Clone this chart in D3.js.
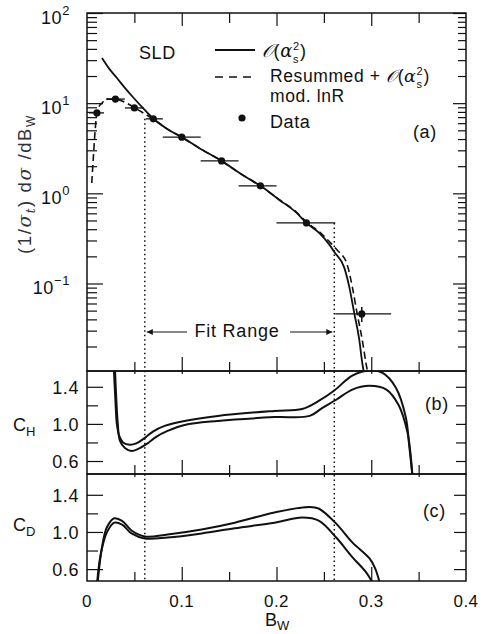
<!DOCTYPE html>
<html><head><meta charset="utf-8">
<script src="https://cdn.jsdelivr.net/npm/d3@7"></script>
<style>
body{margin:0;background:#fff}
svg{display:block;font-family:"Liberation Sans",Arial,Helvetica,sans-serif;color:#111}
</style></head><body>
<svg id="chart" width="487" height="634"></svg>
<script>
// ---------- axis ticks ----------
const xTickValues = [0, 0.1, 0.2, 0.3, 0.4];
const xTickLabels = ["0", "0.1", "0.2", "0.3", "0.4"];
const logTickExps = [2, 1, 0, -1];
const ratioTickValues = [1.4, 1.0, 0.6];
const ratioTickLabels = ["1.4", "1.0", "0.6"];

// ---------- SLD data: bin centre, bin edges, value, vertical error ----------
const dataX = [0.0105, 0.030, 0.050, 0.070, 0.100, 0.142, 0.183, 0.2316, 0.290];
const binLo = [0.002, 0.020, 0.040, 0.062, 0.080, 0.120, 0.160, 0.200, 0.262];
const binHi = [0.018, 0.040, 0.060, 0.080, 0.120, 0.160, 0.200, 0.262, 0.321];
const dataY = [7.8, 11.1, 8.85, 6.7, 4.2, 2.29, 1.21, 0.47, 0.046];
const errLo = [7.5, 10.8, 8.6, 6.5, 4.1, 2.23, 1.17, 0.45, 0.0375];
const errHi = [8.1, 11.4, 9.1, 6.9, 4.3, 2.35, 1.25, 0.49, 0.055];

// ---------- O(alpha_s^2) prediction ----------
const solidX = [0.0158, 0.0236, 0.0316, 0.040, 0.0484, 0.0589, 0.0716, 0.085, 0.100, 0.120, 0.142, 0.161, 0.172, 0.183,
                0.203, 0.221, 0.2316, 0.245, 0.256, 0.261, 0.2716, 0.2768, 0.282, 0.2874, 0.2905, 0.2925];
const solidY = [31.7, 24.0, 19.0, 14.8, 11.7, 8.85, 6.5, 5.15, 4.2, 3.1, 2.29, 1.68, 1.42, 1.21,
                0.845, 0.61, 0.47, 0.364, 0.268, 0.224, 0.149, 0.0917, 0.0472, 0.0237, 0.0132, 0.0100];

// ---------- resummed + O(alpha_s^2), modified lnR ----------
const dashX = [0.0050, 0.0068, 0.0084, 0.0105, 0.0130, 0.0158, 0.021, 0.0295, 0.042, 0.0505, 0.063, 0.0716, 0.085, 0.100,
               0.120, 0.142, 0.161, 0.183, 0.203, 0.221, 0.2316, 0.245, 0.256, 0.264, 0.274, 0.280, 0.285, 0.2905, 0.2947, 0.2965];
const dashY = [1.3, 2.6, 4.7, 7.8, 9.3, 10.0, 11.1, 11.1, 10.0, 8.85, 7.4, 6.5, 5.15, 4.2,
               3.1, 2.29, 1.68, 1.21, 0.85, 0.62, 0.48, 0.375, 0.29, 0.235, 0.169, 0.0917, 0.047, 0.0237, 0.0126, 0.0100];

// ---------- hadronisation correction C_H (band edges) ----------
const chUpX = [0.0283, 0.0300, 0.0315, 0.034, 0.038, 0.0453, 0.052, 0.061, 0.070, 0.082, 0.103, 0.138, 0.198, 0.227,
               0.245, 0.261, 0.280, 0.298, 0.312, 0.326, 0.3365, 0.340, 0.3435];
const chUpY = [1.60, 1.25, 1.00, 0.87, 0.80, 0.775, 0.79, 0.849, 0.92, 0.978, 1.032, 1.086, 1.14, 1.16,
               1.25, 1.36, 1.52, 1.575, 1.55, 1.39, 1.07, 0.77, 0.44];
const chLoX = [0.0295, 0.0310, 0.0325, 0.0347, 0.040, 0.047, 0.054, 0.063, 0.073, 0.085, 0.103, 0.138, 0.198, 0.235,
               0.248, 0.263, 0.280, 0.298, 0.316, 0.329, 0.338, 0.341, 0.3435];
const chLoY = [1.60, 1.25, 1.00, 0.82, 0.74, 0.708, 0.73, 0.784, 0.86, 0.924, 0.989, 1.032, 1.073, 1.086,
               1.17, 1.26, 1.37, 1.41, 1.37, 1.20, 0.92, 0.72, 0.44];

// ---------- detector correction C_D (band edges) ----------
const cdUpX = [0.0112, 0.0158, 0.021, 0.0288, 0.037, 0.047, 0.061, 0.085, 0.121, 0.156, 0.198, 0.235, 0.245, 0.263,
               0.280, 0.298, 0.304, 0.309];
const cdUpY = [0.45, 0.835, 1.05, 1.147, 1.12, 1.016, 0.952, 0.973, 1.027, 1.10, 1.21, 1.27, 1.25, 1.09,
               0.888, 0.717, 0.61, 0.45];
const cdLoX = [0.0106, 0.0147, 0.021, 0.0288, 0.037, 0.047, 0.061, 0.085, 0.121, 0.156, 0.198, 0.227, 0.245, 0.263,
               0.280, 0.295, 0.3015];
const cdLoY = [0.45, 0.77, 0.995, 1.10, 1.08, 0.984, 0.93, 0.94, 0.984, 1.04, 1.10, 1.155, 1.12, 0.94,
               0.73, 0.56, 0.45];

// fit range edges
const fitLo = 0.061, fitHi = 0.261;

// ---------- layout ----------
const L = 87, R = 466;
const aTop = 13, aBot = 371, bBot = 474, cBot = 581;
const ink = "#111";
const serif = "'DejaVu Serif','Liberation Serif',serif";

const svg = d3.select("#chart");
const x = d3.scaleLinear().domain([0, 0.4]).range([L, R]);
const yA = d3.scaleLog().domain([0.0107, 100]).range([aBot, aTop]);
const yB = d3.scaleLinear().domain([0.46, 1.57]).range([bBot, aBot]);
const yC = d3.scaleLinear().domain([0.472, 1.624]).range([cBot, bBot]);

const defs = svg.append("defs");
[["clipA", aTop, aBot], ["clipB", aBot, bBot], ["clipC", bBot, cBot]].forEach(([id, t, b]) => {
  defs.append("clipPath").attr("id", id).append("rect")
    .attr("x", L).attr("y", t).attr("width", R - L).attr("height", b - t);
});
defs.append("marker").attr("id", "arrow").attr("viewBox", "0 0 10 10")
  .attr("refX", 10).attr("refY", 5).attr("markerWidth", 12).attr("markerHeight", 6)
  .attr("markerUnits", "userSpaceOnUse").attr("orient", "auto")
  .append("path").attr("d", "M0,0 L10,5 L0,10 Z").attr("fill", ink);

// ---------- tick helper ----------
function ticks(g, axisFn, scale, values, size) {
  g.call(axisFn(scale).tickValues(values).tickSize(size).tickFormat(""))
    .call(s => s.select(".domain").remove())
    .call(s => s.selectAll("line").attr("stroke", ink).attr("stroke-width", 1.2));
}
const xMajor = [0.1, 0.2, 0.3];
const xMinor = [0.05, 0.15, 0.25, 0.35];

function xTicksFor(top, bot, topLen) {
  ticks(svg.append("g").attr("transform", `translate(0,${bot})`), d3.axisBottom, x, xMajor, -14);
  ticks(svg.append("g").attr("transform", `translate(0,${bot})`), d3.axisBottom, x, xMinor, -9);
  ticks(svg.append("g").attr("transform", `translate(0,${top})`), d3.axisTop, x, xMajor, -topLen[0]);
  ticks(svg.append("g").attr("transform", `translate(0,${top})`), d3.axisTop, x, xMinor, -topLen[1]);
}
xTicksFor(aTop, aBot, [13, 10]);
xTicksFor(aBot, bBot, [3, 3]);
xTicksFor(bBot, cBot, [3, 3]);

// log ticks for panel (a)
const logMajor = logTickExps.map(e => Math.pow(10, e));
const logMinor = [];
[-2, -1, 0, 1].forEach(e => { for (let k = 2; k <= 9; k++) { const v = k * Math.pow(10, e); if (v > 0.0107) logMinor.push(v); } });
ticks(svg.append("g").attr("transform", `translate(${L},0)`), d3.axisLeft, yA, logMajor, -16);
ticks(svg.append("g").attr("transform", `translate(${L},0)`), d3.axisLeft, yA, logMinor, -10);
ticks(svg.append("g").attr("transform", `translate(${R},0)`), d3.axisRight, yA, logMajor, -13);
ticks(svg.append("g").attr("transform", `translate(${R},0)`), d3.axisRight, yA, logMinor, -8);

// ratio ticks for panels (b), (c)
const rMinor = [1.2, 0.8];
[[yB, [10, 10]], [yC, [12, 6]]].forEach(([ys, rl]) => {
  ticks(svg.append("g").attr("transform", `translate(${L},0)`), d3.axisLeft, ys, ratioTickValues, -16);
  ticks(svg.append("g").attr("transform", `translate(${L},0)`), d3.axisLeft, ys, rMinor, -11);
  ticks(svg.append("g").attr("transform", `translate(${R},0)`), d3.axisRight, ys, ratioTickValues, -rl[0]);
  ticks(svg.append("g").attr("transform", `translate(${R},0)`), d3.axisRight, ys, rMinor, -rl[1]);
});

// ---------- frames ----------
[[aTop, aBot], [aBot, bBot], [bBot, cBot]].forEach(([t, b]) => {
  svg.append("rect").attr("x", L).attr("y", t).attr("width", R - L).attr("height", b - t)
    .attr("fill", "none").attr("stroke", ink).attr("stroke-width", 1.5);
});

// ---------- fit range markers ----------
svg.append("line").attr("x1", x(fitLo)).attr("x2", x(fitLo)).attr("y1", yA(6.7)).attr("y2", cBot)
  .attr("stroke", ink).attr("stroke-width", 1.5).attr("stroke-dasharray", "1.5,3");
svg.append("line").attr("x1", x(fitHi)).attr("x2", x(fitHi)).attr("y1", yA(0.47)).attr("y2", cBot)
  .attr("stroke", ink).attr("stroke-width", 1.5).attr("stroke-dasharray", "1.5,3");
svg.append("text").attr("x", 237).attr("y", 337).attr("text-anchor", "middle")
  .attr("font-size", 18).attr("letter-spacing", 0.8).attr("fill", ink).text("Fit Range");
svg.append("line").attr("x1", 187).attr("x2", x(fitLo) + 2).attr("y1", 332).attr("y2", 332)
  .attr("stroke", ink).attr("stroke-width", 1).attr("marker-end", "url(#arrow)");
svg.append("line").attr("x1", 290).attr("x2", x(fitHi) - 2).attr("y1", 332).attr("y2", 332)
  .attr("stroke", ink).attr("stroke-width", 1).attr("marker-end", "url(#arrow)");

// ---------- curves ----------
function curve(clip, xs, ys, yScale, dash, width, interp) {
  const pts = xs.map((v, i) => [x(v), yScale(ys[i])]);
  svg.append("path").attr("clip-path", `url(#${clip})`)
    .attr("d", d3.line().curve(interp)(pts))
    .attr("fill", "none").attr("stroke", ink).attr("stroke-width", width)
    .attr("stroke-dasharray", dash || null).attr("stroke-linejoin", "round");
}
const smooth = d3.curveCatmullRom.alpha(0.5);
curve("clipA", solidX, solidY, yA, null, 1.8, d3.curveMonotoneX);
curve("clipA", dashX, dashY, yA, "7,4", 1.6, d3.curveMonotoneX);
curve("clipB", chUpX, chUpY, yB, null, 2, smooth);
curve("clipB", chLoX, chLoY, yB, null, 2, smooth);
curve("clipC", cdUpX, cdUpY, yC, null, 2, smooth);
curve("clipC", cdLoX, cdLoY, yC, null, 2, smooth);

// ---------- data points ----------
const gd = svg.append("g").attr("clip-path", "url(#clipA)");
dataX.forEach((d, i) => {
  gd.append("line").attr("x1", x(binLo[i])).attr("x2", x(binHi[i]))
    .attr("y1", yA(dataY[i])).attr("y2", yA(dataY[i])).attr("stroke", ink).attr("stroke-width", 1.3);
  gd.append("line").attr("x1", x(d)).attr("x2", x(d))
    .attr("y1", yA(errLo[i])).attr("y2", yA(errHi[i])).attr("stroke", ink).attr("stroke-width", 1.5);
  gd.append("circle").attr("cx", x(d)).attr("cy", yA(dataY[i])).attr("r", 3.6).attr("fill", ink);
});

// ---------- tick labels ----------
const xl = svg.append("g").attr("font-size", 17).attr("letter-spacing", 0.5).attr("fill", ink).attr("text-anchor", "middle");
xTickValues.forEach((v, i) => xl.append("text").attr("x", x(v)).attr("y", 607).text(xTickLabels[i]));

const yl = svg.append("g").attr("font-size", 18).attr("letter-spacing", 0.6).attr("fill", ink).attr("text-anchor", "end");
logTickExps.forEach(e => {
  const t = yl.append("text").attr("x", 70).attr("y", yA(Math.pow(10, e)) + 11);
  t.append("tspan").text("10");
  t.append("tspan").attr("font-size", 13).attr("dy", -9).text(e < 0 ? "\u2212" + Math.abs(e) : String(e));
});
[yB, yC].forEach(ys => {
  ratioTickValues.forEach((v, i) =>
    yl.append("text").attr("x", 79).attr("y", ys(v) + 7).text(ratioTickLabels[i]));
});

// ---------- axis titles ----------
const bw = svg.append("text").attr("x", 265).attr("y", 626).attr("font-size", 18).attr("fill", ink);
bw.append("tspan").text("B");
bw.append("tspan").attr("font-size", 13).attr("dy", 4).text("W");

const yt = svg.append("text").attr("transform", "translate(31,184) rotate(-90)")
  .attr("text-anchor", "middle").attr("font-size", 18.5).attr("fill", "#333")
  .attr("letter-spacing", 1.6);
yt.append("tspan").text("(1/");
yt.append("tspan").attr("font-family", serif).attr("font-style", "italic").text("σ");
yt.append("tspan").attr("font-family", serif).attr("font-style", "italic").attr("font-size", 12).attr("dy", 4).text("t");
yt.append("tspan").attr("dy", -4).text(")  d");
yt.append("tspan").attr("font-family", serif).attr("font-style", "italic").text("σ");
yt.append("tspan").text(" /dB");
yt.append("tspan").attr("font-size", 12).attr("dy", 4).text("W");

function ratioLabel(yPos, sub) {
  const t = svg.append("text").attr("x", 13).attr("y", yPos).attr("font-size", 18).attr("fill", ink);
  t.append("tspan").text("C");
  t.append("tspan").attr("font-size", 13).attr("dy", 5).text(sub);
}
ratioLabel(431, "H");
ratioLabel(531, "D");

// ---------- legend and panel tags ----------
const lg = svg.append("g").attr("font-size", 18).attr("letter-spacing", 0.6).attr("fill", ink);
lg.append("text").attr("x", 139).attr("y", 59).text("SLD");

// O(alpha_s^2) with the subscript s and exponent 2 stacked after alpha
function alphaLabel(x0, y0, prefix, size) {
  const t = lg.append("text").attr("x", x0).attr("y", y0).attr("font-size", size);
  if (prefix) t.append("tspan").text(prefix);
  t.append("tspan").attr("font-family", serif).attr("font-style", "italic").text("\u{1D4AA}");
  t.append("tspan").text("(");
  t.append("tspan").attr("font-family", serif).attr("font-style", "italic").text("α");
  const w = t.node().getComputedTextLength();
  lg.append("text").attr("x", x0 + w).attr("y", y0 + 5.5).attr("font-size", 11).attr("letter-spacing", 0).text("s");
  lg.append("text").attr("x", x0 + w).attr("y", y0 - 7).attr("font-size", 11).attr("letter-spacing", 0).text("2");
  lg.append("text").attr("x", x0 + w + 7).attr("y", y0).attr("font-size", size).text(")");
}
lg.append("line").attr("x1", 215).attr("x2", 255).attr("y1", 50).attr("y2", 50)
  .attr("stroke", ink).attr("stroke-width", 1.8);
alphaLabel(262, 57, "", 18);

lg.append("line").attr("x1", 215).attr("x2", 255).attr("y1", 77).attr("y2", 77)
  .attr("stroke", ink).attr("stroke-width", 1.6).attr("stroke-dasharray", "8,6");
alphaLabel(270, 82, "Resummed + ", 17.5);
lg.append("text").attr("x", 270).attr("y", 101.5).attr("font-size", 17.5).text("mod. lnR");

lg.append("circle").attr("cx", 242).attr("cy", 118).attr("r", 3.6).attr("fill", ink);
lg.append("text").attr("x", 270).attr("y", 128).text("Data");

lg.append("text").attr("x", 413).attr("y", 138).text("(a)");
lg.append("text").attr("x", 425).attr("y", 410).text("(b)");
lg.append("text").attr("x", 423).attr("y", 517).text("(c)");
</script>
</body></html>
